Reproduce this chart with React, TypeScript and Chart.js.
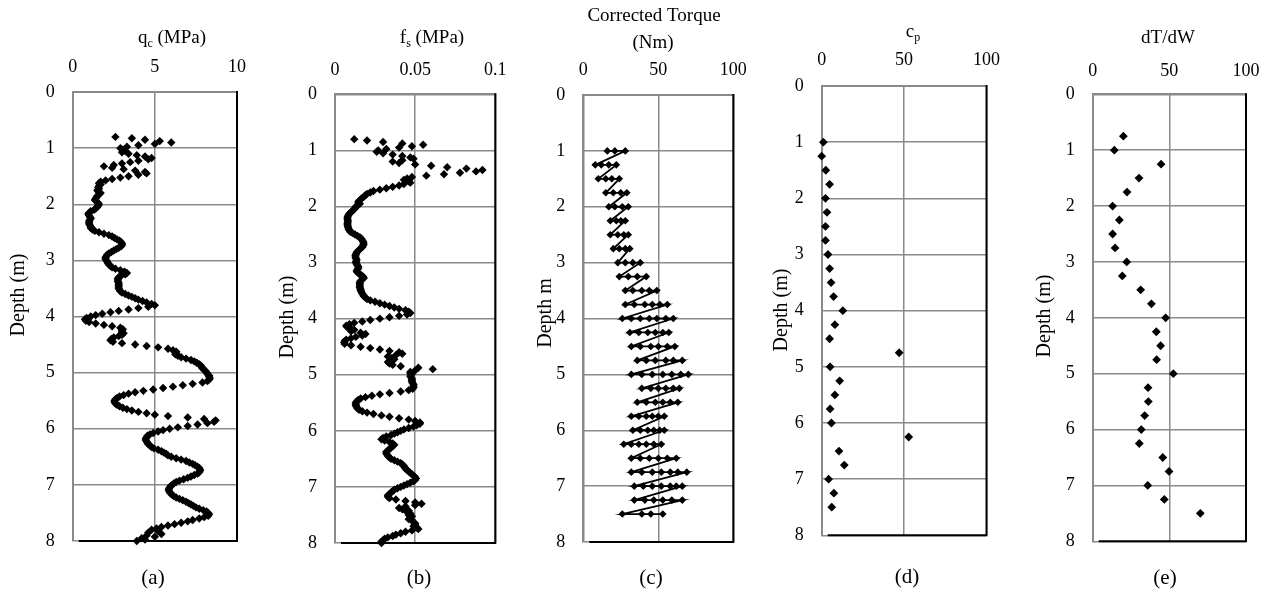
import React, { useEffect, useRef } from "react";
import { Chart, registerables } from "chart.js";

Chart.register(...registerables);

const FONT = "'Liberation Serif', 'Times New Roman', Times, serif";
const GRID = "#8a8a8a";

// ---------- tick labels ----------
const depthTicks = [0, 1, 2, 3, 4, 5, 6, 7, 8];
const qcTicks = [0, 5, 10];
const qcTickLabels = ["0", "5", "10"];
const fsTicks = [0, 0.05, 0.1];
const fsTickLabels = ["0", "0.05", "0.1"];
const torqueTicks = [0, 50, 100];
const torqueTickLabels = ["0", "50", "100"];
const cpTicks = [0, 50, 100];
const cpTickLabels = ["0", "50", "100"];
const dtdwTicks = [0, 50, 100];
const dtdwTickLabels = ["0", "50", "100"];

// ---------- CPT data (sampled every 0.025 m from 0.8 m) ----------
const cptDepthStart = 0.8;
const cptDepthStep = 0.025;

const qcValues = [
  2.6, 3.6, 4.4, 5.3, 6.0, 5.0, 4.0, 3.3, 2.9, 3.0,
  3.2, 3.0, 3.4, 3.9, 4.4, 4.8, 4.6, 4.0, 3.5, 3.0,
  2.5, 1.9, 2.4, 3.1, 3.8, 4.4, 4.5, 4.0, 3.4, 2.9,
  2.4, 2.0, 1.7, 1.6, 1.7, 1.6, 1.55, 1.6, 1.5, 1.55,
  1.7, 1.6, 1.5, 1.45, 1.4, 1.35, 1.45, 1.55, 1.6, 1.55,
  1.5, 1.4, 1.3, 1.1, 1.0, 0.95, 1.0, 1.05, 1.1, 1.05,
  1.0, 1.0, 1.0, 1.05, 1.1, 1.1, 1.2, 1.35, 1.6, 1.9,
  2.2, 2.4, 2.55, 2.7, 2.85, 2.95, 3.0, 3.0, 2.95, 2.8,
  2.65, 2.5, 2.35, 2.2, 2.1, 2.05, 2.0, 2.0, 2.05, 2.1,
  2.15, 2.2, 2.3, 2.4, 2.6, 2.9, 3.15, 3.3, 3.2, 2.95,
  2.8, 2.75, 2.75, 2.75, 2.8, 2.8, 2.8, 2.8, 2.8, 2.85,
  2.9, 3.0, 3.2, 3.4, 3.6, 3.8, 4.0, 4.25, 4.5, 4.8,
  5.0, 4.6, 4.0, 3.4, 2.8, 2.3, 1.8, 1.4, 1.1, 0.85,
  0.75, 0.8, 1.0, 1.4, 1.9, 2.4, 2.9, 3.05, 3.0, 3.0,
  3.1, 3.0, 2.8, 2.5, 2.35, 2.3, 2.45, 3.0, 3.8, 4.5,
  5.2, 5.8, 6.1, 6.3, 6.3, 6.25, 6.4, 6.6, 6.9, 7.2,
  7.4, 7.55, 7.7, 7.8, 7.85, 7.9, 8.0, 8.1, 8.15, 8.2,
  8.3, 8.3, 8.35, 8.3, 8.2, 7.9, 7.3, 6.7, 6.1, 5.5,
  4.9, 4.3, 3.8, 3.4, 3.1, 2.85, 2.7, 2.6, 2.55, 2.55,
  2.6, 2.7, 2.85, 3.05, 3.3, 3.6, 4.0, 4.5, 5.0, 5.8,
  7.0, 8.0, 8.7, 8.6, 8.2, 7.6, 7.0, 6.4, 5.9, 5.5,
  5.2, 4.9, 4.7, 4.55, 4.5, 4.45, 4.45, 4.5, 4.55, 4.6,
  4.7, 4.8, 4.95, 5.2, 5.4, 5.55, 5.7, 5.8, 6.0, 6.3,
  6.6, 6.9, 7.1, 7.3, 7.45, 7.6, 7.7, 7.75, 7.75, 7.7,
  7.6, 7.4, 7.2, 7.0, 6.75, 6.5, 6.3, 6.15, 6.05, 5.95,
  5.9, 5.85, 5.85, 5.9, 5.95, 6.05, 6.15, 6.3, 6.5, 6.7,
  6.9, 7.05, 7.2, 7.35, 7.5, 7.7, 7.95, 8.15, 8.25, 8.3,
  8.25, 8.0, 7.7, 7.3, 7.0, 6.6, 6.2, 5.8, 5.4, 5.1,
  4.8, 5.2, 4.6, 5.4, 4.5, 5.0, 4.2, 4.4, 3.9,
];

const fsValues = [
  0.012, 0.02, 0.03, 0.042, 0.055, 0.048, 0.04, 0.032, 0.027, 0.026,
  0.03, 0.036, 0.042, 0.047, 0.049, 0.042, 0.036, 0.04, 0.05, 0.06,
  0.07, 0.082, 0.092, 0.088, 0.078, 0.068, 0.057, 0.048, 0.045, 0.043,
  0.046, 0.047, 0.043, 0.04, 0.036, 0.032, 0.028, 0.024, 0.022, 0.02,
  0.019, 0.018, 0.017, 0.016, 0.015, 0.0145, 0.0155, 0.0145, 0.013, 0.0125,
  0.012, 0.011, 0.01, 0.009, 0.0085, 0.008, 0.0078, 0.0078, 0.008, 0.008,
  0.0078, 0.0078, 0.008, 0.0082, 0.0085, 0.009, 0.0095, 0.011, 0.0125, 0.014,
  0.0155, 0.0165, 0.017, 0.0175, 0.0178, 0.0178, 0.0175, 0.017, 0.016, 0.015,
  0.014, 0.0135, 0.013, 0.0128, 0.0128, 0.013, 0.0135, 0.0132, 0.013, 0.0135,
  0.014, 0.0145, 0.0145, 0.014, 0.0135, 0.014, 0.015, 0.0165, 0.0175, 0.018,
  0.017, 0.016, 0.0155, 0.0155, 0.0155, 0.0155, 0.0155, 0.016, 0.016, 0.0165,
  0.017, 0.0175, 0.018, 0.019, 0.02, 0.022, 0.025, 0.028, 0.031, 0.034,
  0.037, 0.04, 0.044, 0.046, 0.047, 0.045, 0.04, 0.034, 0.028, 0.022,
  0.017, 0.012, 0.009, 0.007, 0.0075, 0.01, 0.012, 0.01, 0.016, 0.019,
  0.017, 0.013, 0.01, 0.007, 0.006, 0.0058, 0.006, 0.01, 0.016, 0.022,
  0.028, 0.034, 0.04, 0.042, 0.038, 0.033, 0.035, 0.037, 0.035, 0.033,
  0.034, 0.036, 0.041, 0.052, 0.061, 0.05, 0.047, 0.047, 0.0475, 0.047,
  0.0475, 0.048, 0.048, 0.048, 0.0485, 0.049, 0.049, 0.049, 0.0485, 0.046,
  0.041, 0.034, 0.028, 0.023, 0.019, 0.016, 0.0145, 0.0135, 0.013, 0.013,
  0.013, 0.0135, 0.014, 0.015, 0.017, 0.02, 0.024, 0.029, 0.034, 0.04,
  0.046, 0.05, 0.053, 0.053, 0.051, 0.049, 0.046, 0.043, 0.041, 0.039,
  0.037, 0.035, 0.032, 0.03, 0.029, 0.031, 0.034, 0.036, 0.037, 0.036,
  0.035, 0.034, 0.033, 0.032, 0.032, 0.0325, 0.033, 0.034, 0.035, 0.037,
  0.039, 0.041, 0.042, 0.043, 0.0435, 0.044, 0.045, 0.046, 0.047, 0.048,
  0.049, 0.05, 0.0505, 0.05, 0.049, 0.047, 0.045, 0.043, 0.041, 0.039,
  0.037, 0.036, 0.035, 0.034, 0.033, 0.033, 0.034, 0.038, 0.044, 0.05,
  0.054, 0.05, 0.044, 0.04, 0.042, 0.046, 0.045, 0.047, 0.046, 0.048,
  0.047, 0.046, 0.048, 0.049, 0.05, 0.05, 0.049, 0.051, 0.052, 0.048,
  0.044, 0.041, 0.038, 0.036, 0.033, 0.031, 0.03, 0.029, 0.029,
];

// ---------- corrected torque: readings at each depth step ----------
const torqueDepths = [
  1.0, 1.25, 1.5, 1.75, 2.0, 2.25, 2.5, 2.75, 3.0, 3.25, 3.5, 3.75, 4.0, 4.25,
  4.5, 4.75, 5.0, 5.25, 5.5, 5.75, 6.0, 6.25, 6.5, 6.75, 7.0, 7.25, 7.5,
];
const torqueRows = [
  [16, 21, 28],
  [8, 12, 17, 22],
  [10, 15, 19, 24],
  [15, 20, 25, 29],
  [17, 21, 26, 30],
  [18, 22, 25, 28],
  [18, 23, 27, 30],
  [20, 24, 28, 31],
  [23, 28, 33, 38],
  [24, 30, 36, 42],
  [28, 33, 39, 44, 49],
  [28, 34, 41, 46, 51, 56],
  [26, 32, 38, 44, 49, 55, 60],
  [31, 37, 43, 48, 53, 57],
  [32, 38, 45, 50, 56, 61],
  [36, 42, 48, 55, 60, 66],
  [32, 39, 46, 53, 59, 65, 70],
  [39, 45, 50, 55, 60, 64],
  [36, 42, 48, 53, 58, 63],
  [32, 37, 42, 46, 50, 54],
  [33, 38, 43, 47, 51, 54],
  [27, 32, 37, 42, 47, 52],
  [32, 38, 44, 50, 56, 62],
  [32, 39, 46, 52, 58, 63, 69],
  [34, 40, 46, 52, 58, 62, 66],
  [34, 41, 47, 53, 59, 66],
  [26, 39, 45, 53],
];

// ---------- cp ----------
const cpDepths = [
  1.0, 1.25, 1.5, 1.75, 2.0, 2.25, 2.5, 2.75, 3.0, 3.25, 3.5, 3.75, 4.0, 4.25,
  4.5, 4.75, 5.0, 5.25, 5.5, 5.75, 6.0, 6.25, 6.5, 6.75, 7.0, 7.25, 7.5,
];
const cpValues = [
  1.0, 0.0, 2.5, 4.8, 2.3, 3.2, 2.3, 2.3, 3.8, 4.8, 5.7, 7.2, 12.8, 8.0,
  4.8, 47, 5.1, 10.9, 8.0, 5.1, 5.9, 52.8, 10.5, 13.7, 4.2, 7.4, 6.1,
];

// ---------- dT/dW ----------
const dtdwDepths = [
  0.75, 1.0, 1.25, 1.5, 1.75, 2.0, 2.25, 2.5, 2.75, 3.0, 3.25, 3.5, 3.75, 4.0,
  4.25, 4.5, 4.75, 5.0, 5.25, 5.5, 5.75, 6.0, 6.25, 6.5, 6.75, 7.0, 7.25, 7.5,
];
const dtdwValues = [
  20, 14.1, 44.6, 30.2, 22.4, 13, 17.4, 13, 14.6, 22.2, 19.3, 31.3, 38.3, 47.6,
  41.5, 44.3, 41.7, 52.6, 36.1, 36.3, 33.9, 31.7, 30.4, 45.7, 49.8, 35.9, 46.7, 70.2,
];

// ---------- helpers ----------
type Part = { t: string; sub?: boolean };
type TextItem = { x: number; y: number; parts: Part[]; size: number; rotate?: boolean };
type Rect = { L: number; R: number; T: number; B: number };

const cptPoints = (vals: number[]) =>
  vals.map((v, i) => ({ x: v, y: +(cptDepthStart + i * cptDepthStep).toFixed(3) }));
const pairPoints = (depths: number[], vals: number[]) => depths.map((d, i) => ({ x: vals[i], y: d }));
const torquePoints = () => {
  const pts: { x: number; y: number }[] = [];
  torqueRows.forEach((row, i) => row.forEach((t) => pts.push({ x: t, y: torqueDepths[i] })));
  return pts;
};

function drawItem(ctx: CanvasRenderingContext2D, item: TextItem, offX: number) {
  const main = `${item.size}px ${FONT}`;
  const subSize = Math.round(item.size * 0.65);
  const sub = `${subSize}px ${FONT}`;
  let total = 0;
  const widths = item.parts.map((p) => {
    ctx.font = p.sub ? sub : main;
    const w = ctx.measureText(p.t).width;
    total += w;
    return w;
  });
  ctx.save();
  ctx.translate(item.x - offX, item.y);
  if (item.rotate) ctx.rotate(-Math.PI / 2);
  ctx.fillStyle = "#000";
  ctx.textAlign = "left";
  ctx.textBaseline = "alphabetic";
  let x = -total / 2;
  const base = item.size * 0.3;
  item.parts.forEach((p, i) => {
    ctx.font = p.sub ? sub : main;
    ctx.fillText(p.t, x, base + (p.sub ? item.size * 0.22 : 0));
    x += widths[i];
  });
  ctx.restore();
}

type PanelProps = {
  left: number;
  width: number;
  plot: Rect;
  xMax: number;
  xTicks: number[];
  xLabels: string[];
  xPad: number;
  dataset: any;
  texts: TextItem[];
};

const Y_W = 30;
const X_H = 50;
const H = 596;

function Panel({ left, width, plot, xMax, xTicks, xLabels, xPad, dataset, texts }: PanelProps) {
  const ref = useRef<HTMLCanvasElement | null>(null);
  useEffect(() => {
    if (!ref.current) return;
    const decor = {
      id: "panelDecor",
      beforeDatasetsDraw(chart: any) {
        const { ctx, chartArea: a } = chart;
        ctx.save();
        ctx.strokeStyle = "#000";
        ctx.lineWidth = 2;
        ctx.beginPath();
        ctx.moveTo(a.right, a.top - 1);
        ctx.lineTo(a.right, a.bottom + 1);
        ctx.moveTo(a.left + 6, a.bottom);
        ctx.lineTo(a.right + 1, a.bottom);
        ctx.stroke();
        ctx.restore();
      },
      afterDraw(chart: any) {
        texts.forEach((t) => drawItem(chart.ctx, t, left));
      },
    };
    const tickFont = { family: FONT, size: 18 };
    const chart = new Chart(ref.current, {
      type: "scatter",
      data: { datasets: [dataset] },
      options: {
        animation: false,
        responsive: false,
        maintainAspectRatio: false,
        events: [],
        layout: {
          padding: {
            left: plot.L - left - Y_W,
            right: left + width - plot.R,
            top: plot.T - X_H,
            bottom: H - plot.B,
          },
        },
        plugins: { legend: { display: false }, tooltip: { enabled: false }, title: { display: false } },
        scales: {
          x: {
            type: "linear",
            position: "top",
            min: 0,
            max: xMax,
            afterBuildTicks: (s: any) => {
              s.ticks = xTicks.map((v) => ({ value: v }));
            },
            afterFit: (s: any) => {
              s.height = X_H;
            },
            ticks: {
              font: tickFont,
              color: "#000",
              padding: xPad,
              autoSkip: false,
              maxRotation: 0,
              callback: (_v: any, i: number) => xLabels[i],
            },
            grid: { color: GRID, lineWidth: 1.5, drawTicks: false },
            border: { display: true, color: GRID, width: 2 },
          },
          y: {
            type: "linear",
            reverse: true,
            min: 0,
            max: 8,
            afterBuildTicks: (s: any) => {
              s.ticks = depthTicks.map((v) => ({ value: v }));
            },
            afterFit: (s: any) => {
              s.width = Y_W;
            },
            ticks: {
              font: tickFont,
              color: "#000",
              padding: 18,
              autoSkip: false,
              callback: (v: any) => String(v),
            },
            grid: { color: GRID, lineWidth: 1.5, drawTicks: false },
            border: { display: true, color: GRID, width: 2 },
          },
        },
      },
      plugins: [decor],
    } as any);
    return () => chart.destroy();
  }, []);
  return (
    <canvas
      ref={ref}
      width={width}
      height={H}
      style={{ position: "absolute", left, top: 0, width, height: H }}
    />
  );
}

const diamond = (data: any[], radius: number, extra: any = {}) => ({
  data,
  pointStyle: "rectRot",
  pointRadius: radius,
  pointBackgroundColor: "#000",
  pointBorderColor: "#000",
  pointBorderWidth: 0,
  showLine: false,
  clip: false,
  ...extra,
});

export default function App() {
  return (
    <div style={{ position: "absolute", left: 0, top: 0, width: 1272, height: H, background: "#fff", overflow: "hidden" }}>
      <Panel
        left={0}
        width={260}
        plot={{ L: 72.7, R: 248, T: 92, B: 541 }}
        xMax={10}
        xTicks={qcTicks}
        xLabels={qcTickLabels}
        xPad={14}
        dataset={diamond(cptPoints(qcValues), 4.2)}
        texts={[
          { x: 172, y: 37, size: 19, parts: [{ t: "q" }, { t: "c", sub: true }, { t: " (MPa)" }] },
          { x: 18, y: 295, size: 20, rotate: true, parts: [{ t: "Depth (m)" }] },
          { x: 153, y: 578, size: 21, parts: [{ t: "(a)" }] },
        ]}
      />
      <Panel
        left={260}
        width={260}
        plot={{ L: 335, R: 507, T: 94.3, B: 543 }}
        xMax={0.1}
        xTicks={fsTicks}
        xLabels={fsTickLabels}
        xPad={13.5}
        dataset={diamond(cptPoints(fsValues), 4.2)}
        texts={[
          { x: 432, y: 37, size: 19, parts: [{ t: "f" }, { t: "s", sub: true }, { t: " (MPa)" }] },
          { x: 287, y: 317, size: 20, rotate: true, parts: [{ t: "Depth (m)" }] },
          { x: 419, y: 578, size: 21, parts: [{ t: "(b)" }] },
        ]}
      />
      <Panel
        left={520}
        width={250}
        plot={{ L: 583.3, R: 733.3, T: 95, B: 542 }}
        xMax={100}
        xTicks={torqueTicks}
        xLabels={torqueTickLabels}
        xPad={14}
        dataset={diamond(torquePoints(), 3.8, { showLine: true, borderColor: "#000", borderWidth: 1.8 })}
        texts={[
          { x: 654, y: 15, size: 19, parts: [{ t: "Corrected Torque" }] },
          { x: 653, y: 42, size: 19, parts: [{ t: "(Nm)" }] },
          { x: 545, y: 313, size: 20, rotate: true, parts: [{ t: "Depth m" }] },
          { x: 651, y: 578, size: 21, parts: [{ t: "(c)" }] },
        ]}
      />
      <Panel
        left={770}
        width={245}
        plot={{ L: 821.7, R: 996.7, T: 86, B: 535.3 }}
        xMax={100}
        xTicks={cpTicks}
        xLabels={cpTickLabels}
        xPad={15}
        dataset={diamond(pairPoints(cpDepths, cpValues), 4.4)}
        texts={[
          { x: 913, y: 31, size: 19, parts: [{ t: "c" }, { t: "p", sub: true }] },
          { x: 781, y: 310, size: 20, rotate: true, parts: [{ t: "Depth (m)" }] },
          { x: 907, y: 577, size: 21, parts: [{ t: "(d)" }] },
        ]}
      />
      <Panel
        left={1015}
        width={257}
        plot={{ L: 1092.7, R: 1246, T: 94.3, B: 541.3 }}
        xMax={100}
        xTicks={dtdwTicks}
        xLabels={dtdwTickLabels}
        xPad={12.5}
        dataset={diamond(pairPoints(dtdwDepths, dtdwValues), 4.4)}
        texts={[
          { x: 1168, y: 37, size: 19, parts: [{ t: "dT/dW" }] },
          { x: 1044, y: 316, size: 20, rotate: true, parts: [{ t: "Depth (m)" }] },
          { x: 1165, y: 578, size: 21, parts: [{ t: "(e)" }] },
        ]}
      />
    </div>
  );
}
